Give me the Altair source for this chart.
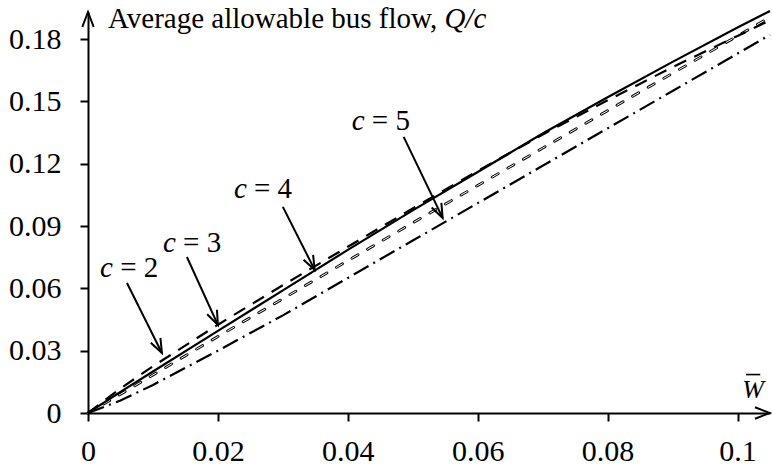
import math
import altair as alt
import pandas as pd

# Normalised waiting time W-bar (x) and average allowable bus flow Q/c (y)
w = [0.0, 0.005, 0.01, 0.02, 0.03, 0.04, 0.05, 0.06, 0.07, 0.08, 0.09, 0.1, 0.105]
q_c2 = [0.0, 0.0118, 0.0225, 0.0425, 0.0615, 0.0800, 0.0985, 0.1165, 0.1340, 0.1505, 0.1665, 0.1815, 0.1890]
q_c3 = [0.0, 0.0102, 0.0200, 0.0395, 0.0590, 0.0785, 0.0975, 0.1160, 0.1345, 0.1520, 0.1690, 0.1855, 0.1935]
q_c4 = [0.0, 0.0090, 0.0183, 0.0368, 0.0550, 0.0733, 0.0915, 0.1095, 0.1275, 0.1455, 0.1635, 0.1815, 0.1905]
q_c5 = [0.0, 0.0060, 0.0135, 0.0300, 0.0470, 0.0650, 0.0830, 0.1010, 0.1190, 0.1370, 0.1550, 0.1730, 0.1820]

x_ticks = [0, 0.02, 0.04, 0.06, 0.08, 0.1]
y_ticks = [0, 0.03, 0.06, 0.09, 0.12, 0.15, 0.18]

# Curve labels: "c = n", anchored at the left of the italic c
label_n = ["2", "3", "4", "5"]
label_x = [0.00185, 0.01154, 0.02246, 0.0406]
label_y = [0.0655, 0.0775, 0.1035, 0.1363]

# Pointer arrows from each label to its curve
arrow_x0 = [0.0060, 0.01523, 0.0300, 0.0486]
arrow_y0 = [0.0626, 0.0751, 0.0992, 0.1329]
arrow_x1 = [0.01138, 0.0200, 0.0349, 0.0546]
arrow_y1 = [0.0289, 0.0424, 0.0689, 0.0939]

# Overbar of the W-bar axis caption
bar_x = [0.1013, 0.1035]
bar_y = 0.0185

X_MAX = 0.105
Y_MAX = 0.193
W_PX = 682
H_PX = 401
FONT = "Liberation Serif"
FS = 30
LFS = 29

x_scale = alt.Scale(domain=[0, X_MAX], nice=False, zero=True)
y_scale = alt.Scale(domain=[0, Y_MAX], nice=False, zero=True)

curves = pd.DataFrame({
    "w": w * 4,
    "q": q_c2 + q_c3 + q_c4 + q_c5,
    "c": ["2"] * len(w) + ["3"] * len(w) + ["4"] * len(w) + ["5"] * len(w),
})

base = alt.Chart(curves).encode(
    x=alt.X("w:Q", scale=x_scale,
            axis=alt.Axis(values=x_ticks, format="~g", title=None, grid=False,
                          domainColor="black", domainWidth=2, tickColor="black",
                          tickWidth=2, tickSize=8, labelFont=FONT, labelFontSize=FS,
                          labelColor="black", labelPadding=15, labelFlush=False)),
    y=alt.Y("q:Q", scale=y_scale,
            axis=alt.Axis(values=y_ticks, format="~g", title=None, grid=False,
                          domainColor="black", domainWidth=2, tickColor="black",
                          tickWidth=2, tickSize=8, labelFont=FONT, labelFontSize=FS,
                          labelColor="black", labelPadding=19, labelFlush=False)),
)

line_c2 = base.transform_filter(alt.datum.c == "2").mark_line(
    color="black", strokeWidth=2.2, strokeDash=[13, 9])
line_c3 = base.transform_filter(alt.datum.c == "3").mark_line(
    color="black", strokeWidth=2.2)
# hollow short dashes: a thick black dash with a thin white core
line_c4_outer = base.transform_filter(alt.datum.c == "4").mark_line(
    color="black", strokeWidth=2.8, strokeDash=[7, 11], strokeCap="round")
line_c4_inner = base.transform_filter(alt.datum.c == "4").mark_line(
    color="white", strokeWidth=1.0, strokeDash=[7, 11], strokeCap="round")
line_c5 = base.transform_filter(alt.datum.c == "5").mark_line(
    color="black", strokeWidth=2.2, strokeDash=[17, 5.5, 2, 5.5])

# Arrow shafts and open heads
px_x = W_PX / X_MAX
px_y = H_PX / Y_MAX
rot = []
for a, b, c, d in zip(arrow_x0, arrow_y0, arrow_x1, arrow_y1):
    theta = math.degrees(math.atan2(-(d - b) * px_y, (c - a) * px_x))
    rot.append((theta - 90) % 360)

arrows = pd.DataFrame({"x0": arrow_x0, "y0": arrow_y0, "x1": arrow_x1,
                       "y1": arrow_y1, "rot": rot})
shafts = alt.Chart(arrows).mark_rule(color="black", strokeWidth=2).encode(
    x=alt.X("x0:Q", scale=x_scale), y=alt.Y("y0:Q", scale=y_scale),
    x2="x1:Q", y2="y1:Q")

HEAD = "M -0.38,-1 L 0,0 L 0.38,-1"
heads = alt.Chart(arrows).mark_point(
    shape=HEAD, filled=False, color="black", strokeWidth=2, size=800, opacity=1
).encode(x=alt.X("x1:Q", scale=x_scale), y=alt.Y("y1:Q", scale=y_scale),
         angle=alt.Angle("rot:Q", scale=None))

# Arrowheads closing the two axes
axis_heads_df = pd.DataFrame({"x": [X_MAX, 0.0], "y": [0.0, Y_MAX], "rot": [270, 180]})
axis_heads = alt.Chart(axis_heads_df).mark_point(
    shape=HEAD, filled=False, color="black", strokeWidth=2, size=900, opacity=1
).encode(x=alt.X("x:Q", scale=x_scale), y=alt.Y("y:Q", scale=y_scale),
         angle=alt.Angle("rot:Q", scale=None))

labels = pd.DataFrame({"x": label_x, "y": label_y,
                       "rest": ["= " + n for n in label_n]})
label_c = alt.Chart(labels).mark_text(
    text="c", font=FONT, fontSize=LFS, fontStyle="italic", align="left",
    baseline="alphabetic", color="black"
).encode(x=alt.X("x:Q", scale=x_scale), y=alt.Y("y:Q", scale=y_scale))
label_rest = alt.Chart(labels).mark_text(
    font=FONT, fontSize=LFS, align="left", baseline="alphabetic", color="black",
    dx=0.694 * LFS
).encode(x=alt.X("x:Q", scale=x_scale), y=alt.Y("y:Q", scale=y_scale),
         text="rest:N")

# Axis captions
title_df = pd.DataFrame({"x": [0.00308], "y": [0.1854]})
title_main = alt.Chart(title_df).mark_text(
    text="Average allowable bus flow,", font=FONT, fontSize=LFS, align="left",
    baseline="alphabetic", color="black"
).encode(x=alt.X("x:Q", scale=x_scale), y=alt.Y("y:Q", scale=y_scale))
title_ital = alt.Chart(title_df).mark_text(
    text="Q/c", font=FONT, fontSize=LFS, fontStyle="italic", align="left",
    baseline="alphabetic", color="black", dx=11.6 * LFS
).encode(x=alt.X("x:Q", scale=x_scale), y=alt.Y("y:Q", scale=y_scale))

wbar_df = pd.DataFrame({"x": [0.1024], "y": [0.0072]})
wbar = alt.Chart(wbar_df).mark_text(
    text="W", font=FONT, fontSize=26, fontStyle="italic", align="center",
    baseline="alphabetic", color="black"
).encode(x=alt.X("x:Q", scale=x_scale), y=alt.Y("y:Q", scale=y_scale))
overbar = alt.Chart(pd.DataFrame({"x": [bar_x[0]], "x2": [bar_x[1]], "y": [bar_y]})).mark_rule(
    color="black", strokeWidth=1.6
).encode(x=alt.X("x:Q", scale=x_scale), x2="x2:Q", y=alt.Y("y:Q", scale=y_scale))

chart = alt.layer(
    line_c5, line_c4_outer, line_c4_inner, line_c2, line_c3,
    shafts, heads, axis_heads, label_c, label_rest, title_main, title_ital,
    wbar, overbar
).properties(
    width=W_PX, height=H_PX,
    padding={"left": 88, "top": 12, "right": 2, "bottom": 53},
    autosize=alt.AutoSizeParams(type="none"),
    background="white",
).configure_view(stroke=None)

chart.save("out.html", embed_options={"renderer": "svg", "actions": False})
